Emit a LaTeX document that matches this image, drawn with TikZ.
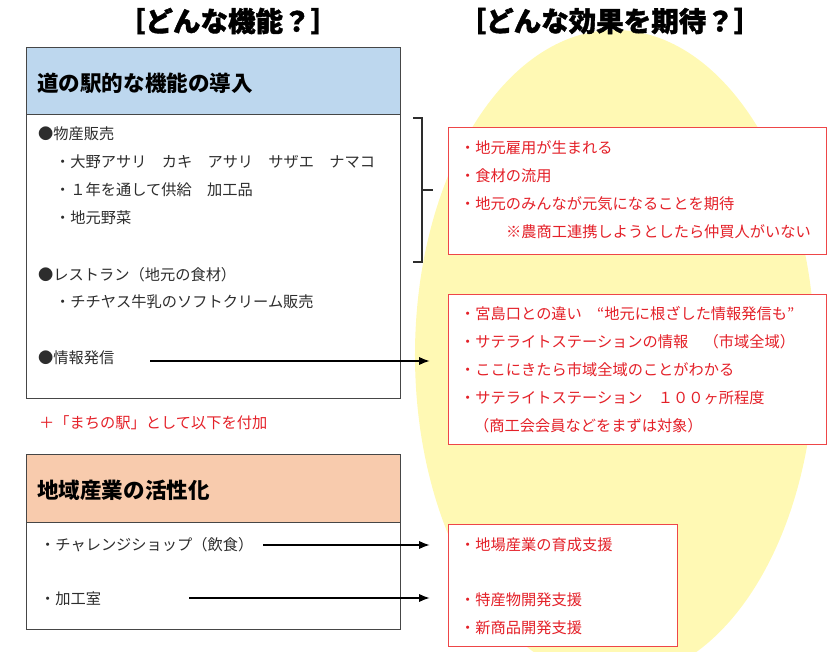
\documentclass[tikz,border=0pt]{standalone}
\usepackage{fontspec}
\setmainfont{Noto Sans CJK JP}
\newfontfamily\titlefont{Noto Sans CJK JP}[BoldFeatures={FakeBold=1.4}]
\usetikzlibrary{arrows.meta,positioning,calc}
\definecolor{headblue}{RGB}{189,215,238}
\definecolor{headpeach}{RGB}{248,203,173}
\definecolor{hopeyellow}{RGB}{255,249,180}
\definecolor{boxgray}{RGB}{70,70,70}
\definecolor{textgray}{RGB}{45,45,45}
\definecolor{effred}{RGB}{228,32,40}
\definecolor{effline}{RGB}{238,70,72}
\tikzset{
title/.style = {inner sep=0pt, font=\titlefont\fontsize{23.5pt}{27pt}\selectfont\bfseries},
headbox/.style = {draw=boxgray, line width=0.9pt, rectangle, anchor=north west, inner sep=0pt, minimum width=11.22cm},
bodybox/.style = {headbox, fill=white},
headtext/.style = {anchor=west, inner sep=0pt, text=black, font=\fontsize{18.4pt}{21pt}\selectfont\bfseries},
item/.style = {anchor=west, inner sep=0pt, text=textgray, font=\fontsize{13pt}{15pt}\selectfont},
effbox/.style = {draw=effline, fill=white, line width=1pt, rectangle, anchor=north west, inner sep=0pt},
effitem/.style = {item, text=effred},
flow/.style = {->, line width=1.1pt, shorten >=0.55cm},
bracket/.style = {line width=1.2pt, draw=textgray}
}
\begin{document}
\begin{tikzpicture}[x=0.03cm, y=-0.03cm, >={Latex[length=9pt,width=7pt]}]
    \useasboundingbox (0,0) rectangle (827,652);
    % background
    \fill [hopeyellow] (615,355) ellipse [x radius=6cm, y radius=9.75cm];

    % titles
    \node [title] (ttlfunc) at (228,21) {［どんな機能？］};
    \node [title] (ttleff) at (610,21) {［どんな効果を期待？］};

    % box 1
    \node [headbox, fill=headblue, minimum height=2.01cm] (head1) at (26,47) {};
    \node [bodybox, minimum height=8.52cm] (body1) at (26,114) {};
    \node [headtext] (head1txt) at (37,83) {道の駅的な機能の導入};
    \node [item] (bussan) at (38,134) {●物産販売};
    \node [item] (bussan1) at (55,162) {・大野アサリ　カキ　アサリ　サザエ　ナマコ};
    \node [item] (bussan2) at (55,190) {・１年を通して供給　加工品};
    \node [item] (bussan3) at (55,218) {・地元野菜};
    \node [item] (resto) at (38,275) {●レストラン（地元の食材）};
    \node [item] (resto1) at (55,302) {・チチヤス牛乳のソフトクリーム販売};
    \node [item] (info) at (38,358) {●情報発信};

    \node [effitem] (plus) at (39,423) {＋「まちの駅」として以下を付加};

    % box 2
    \node [headbox, fill=headpeach, minimum height=2.04cm] (head2) at (26,454) {};
    \node [bodybox, minimum height=3.21cm] (body2) at (26,522) {};
    \node [headtext] (head2txt) at (37,490) {地域産業の活性化};
    \node [item] (shop) at (40,545) {・チャレンジショップ（飲食）};
    \node [item] (kako) at (40,599) {・加工室};

    % effects
    \node [effbox, minimum width=11.34cm, minimum height=3.81cm] (eff1) at (448,127) {};
    \node [effitem] (eff1a) at (460,148) {・地元雇用が生まれる};
    \node [effitem] (eff1b) at (460,176) {・食材の流用};
    \node [effitem] (eff1c) at (460,204) {・地元のみんなが元気になることを期待};
    \node [effitem] (eff1d) at (506,232) {※農商工連携しようとしたら仲買人がいない};

    \node [effbox, minimum width=11.34cm, minimum height=4.5cm] (eff2) at (448,294) {};
    \node [effitem] (eff2a) at (460,314) {・宮島口との違い　“地元に根ざした情報発信も”};
    \node [effitem] (eff2b) at (460,342) {・サテライトステーションの情報　（市域全域）};
    \node [effitem] (eff2c) at (460,370) {・ここにきたら市域全域のことがわかる};
    \node [effitem] (eff2d) at (460,398) {・サテライトステーション　１００ヶ所程度};
    \node [effitem] (eff2e) at (474,426) {（商工会会員などをまずは対象）};

    \node [effbox, minimum width=6.87cm, minimum height=3.66cm] (eff3) at (448,524) {};
    \node [effitem] (eff3a) at (460,545) {・地場産業の育成支援};
    \node [effitem] (eff3b) at (460,600) {・特産物開発支援};
    \node [effitem] (eff3c) at (460,628) {・新商品開発支援};

    % bracket
    \coordinate (brtop) at (413,118);
    \coordinate (brbot) at (413,262);
    \coordinate (brmid) at (422,190);
    \draw [bracket] (brtop) -- ++(9,0) |- (brbot);
    \draw [bracket] (brmid) -- ++(11,0);

    % arrows
    \coordinate (infostart) at (150,361);
    \coordinate (shopstart) at (263,545);
    \coordinate (kakostart) at (189,598);
    \draw [flow] (infostart) -- (infostart -| eff2.west);
    \draw [flow] (shopstart) -- (shopstart -| eff3.west);
    \draw [flow] (kakostart) -- (kakostart -| eff3.west);
\end{tikzpicture}
\end{document}
